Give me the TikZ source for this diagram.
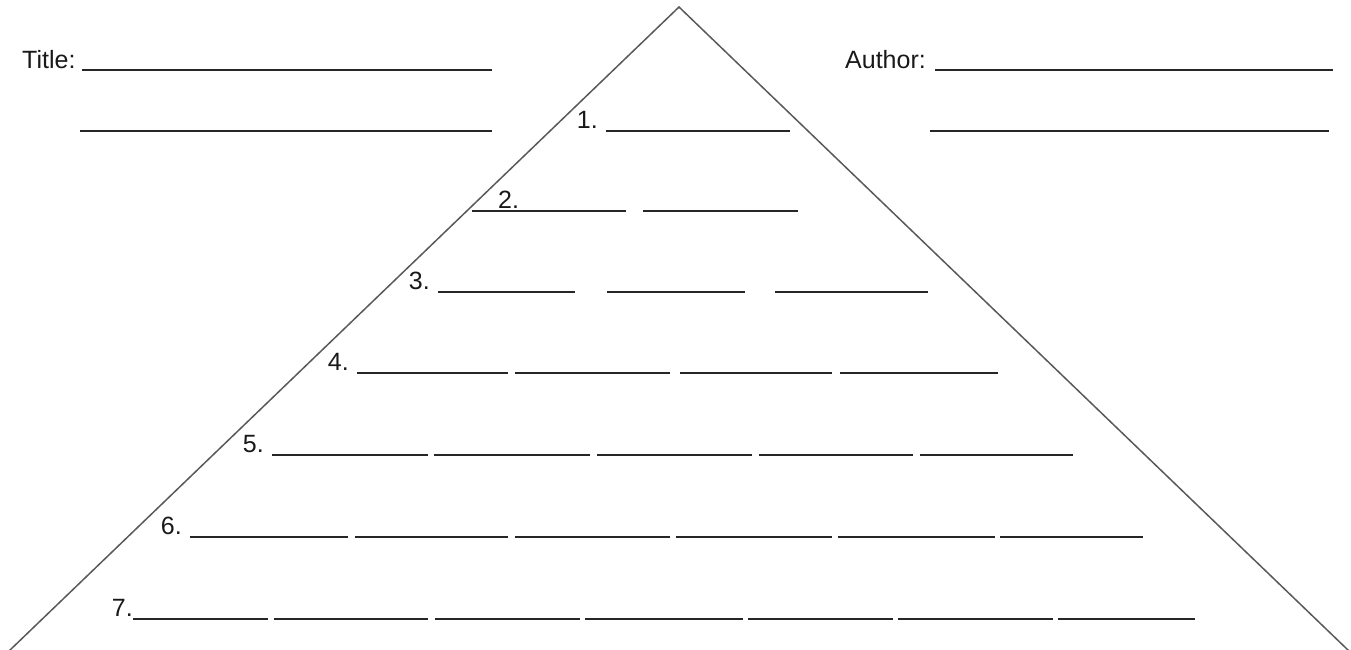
\documentclass[tikz,border=0pt]{standalone}
\usepackage{fontspec}
\setmainfont{Liberation Sans}
\begin{document}
\begin{tikzpicture}[x=1pt,y=-1pt,
  blank/.style={draw=black!85,line width=1.8pt},
  edge/.style={draw=black!65,line width=1.5pt,line join=miter},
  lbl/.style={inner sep=0pt,anchor=base west,font=\fontsize{25}{28}\selectfont,text=black!90},
  num/.style={inner sep=0pt,anchor=base east,font=\fontsize{25}{28}\selectfont,text=black!90}]
\useasboundingbox (0,0) rectangle (1351,649);
% triangle
\coordinate (apex) at (679,7);
\coordinate (bl) at (9,651);
\coordinate (br) at (1349,651);
\draw[edge] (bl) -- (apex) -- (br);
% title / author
\node[lbl] (title) at (22,68) {Title:};
\draw[blank] (82,70) -- (492,70);
\draw[blank] (80,131) -- (492,131);
\node[lbl] (author) at (845,68) {Author:};
\draw[blank] (935,70) -- (1333,70);
\draw[blank] (930,131) -- (1329,131);
% rows
\node[num] (n1) at (598,128) {1.};
\draw[blank] (606,131) -- (790,131);
\node[lbl] (n2) at (498,208) {2.};
\foreach \a/\b in {472/626,643/798} \draw[blank] (\a,211) -- (\b,211);
\node[num] (n3) at (430,289) {3.};
\foreach \a/\b in {438/575,607/745,775/928} \draw[blank] (\a,292) -- (\b,292);
\node[num] (n4) at (349,370) {4.};
\foreach \a/\b in {357/508,515/670,680/832,840/998} \draw[blank] (\a,373) -- (\b,373);
\node[num] (n5) at (264,452) {5.};
\foreach \a/\b in {272/428,434/590,597/752,759/913,920/1073} \draw[blank] (\a,455) -- (\b,455);
\node[num] (n6) at (182,534) {6.};
\foreach \a/\b in {190/348,355/508,515/670,676/832,838/995,1000/1143} \draw[blank] (\a,537) -- (\b,537);
\node[num] (n7) at (133,616) {7.};
\foreach \a/\b in {133/268,274/428,435/580,585/743,748/893,898/1053,1058/1195} \draw[blank] (\a,619) -- (\b,619);
\end{tikzpicture}
\end{document}
